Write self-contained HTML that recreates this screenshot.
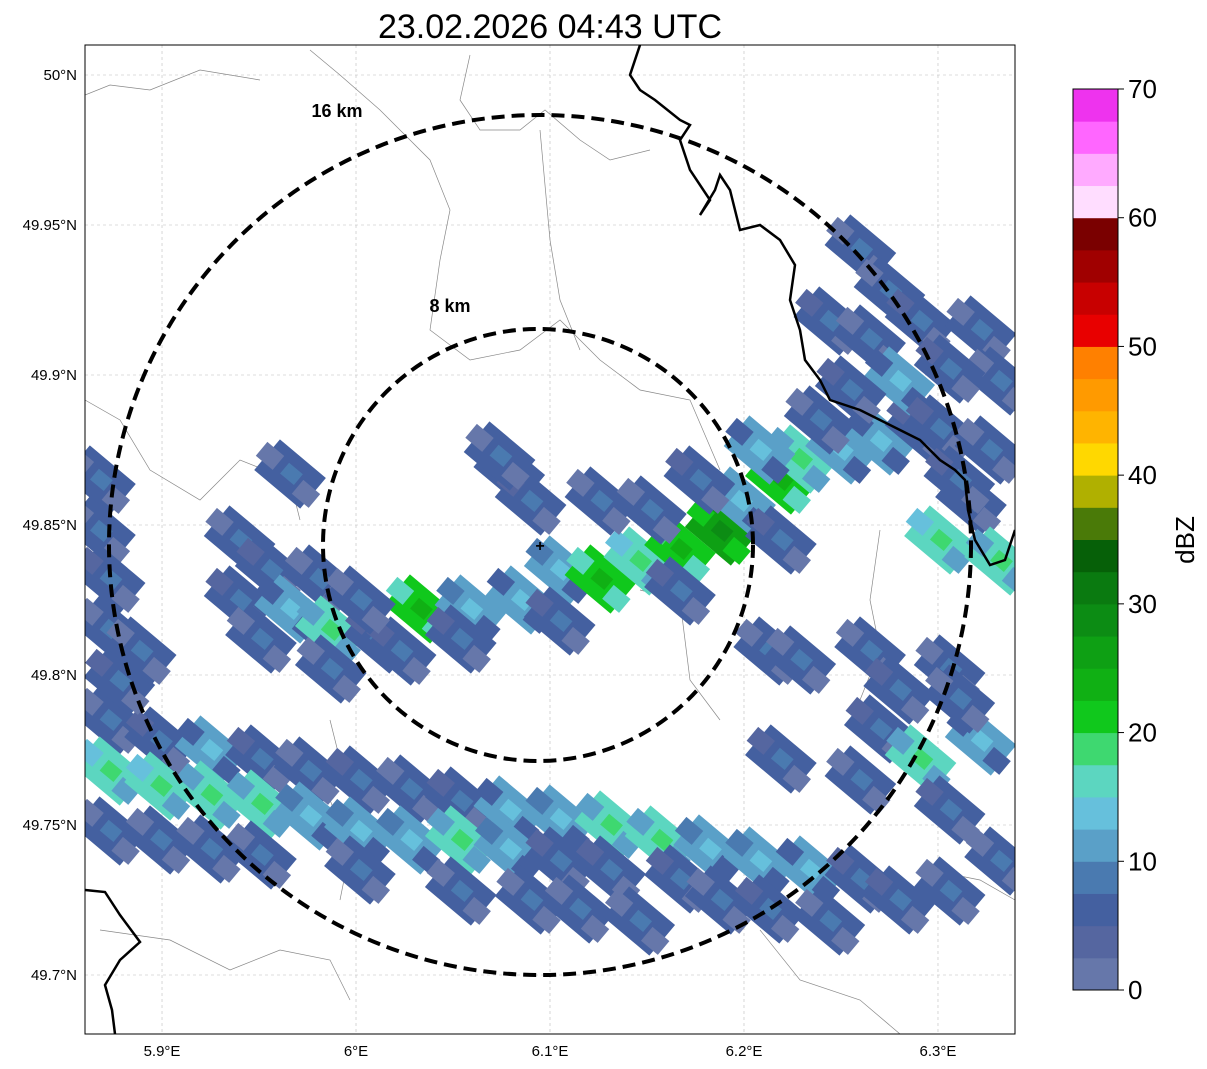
<!DOCTYPE html>
<html><head><meta charset="utf-8">
<style>
body{margin:0;background:#fff;width:1207px;height:1069px;overflow:hidden;font-family:"Liberation Sans",sans-serif;}
svg{display:block}
</style></head>
<body>
<svg id="chart" width="1207" height="1069" xmlns="http://www.w3.org/2000/svg">
<text x="550" y="38" font-size="34" text-anchor="middle" font-family="Liberation Sans, sans-serif">23.02.2026 04:43 UTC</text>
<defs><clipPath id="clip"><rect x="85" y="45" width="930" height="989"/></clipPath></defs>
<g id="grid"></g>
<g id="geo" clip-path="url(#clip)">
<path d="M85,400 L120,420 L150,470 L200,500 L240,460 L290,480 L300,520 M85,95 L110,85 L150,90 L200,70 L260,80 M310,50 L340,75 L380,110 L430,160 L450,210 L440,260 L430,330 L470,360 L520,350 L560,320 L600,360 L640,390 L690,400 L720,470 M470,55 L460,100 L480,130 L520,130 L545,110 L580,140 L610,160 L650,150 M540,130 L550,240 L560,300 L580,350 M330,720 L340,760 L330,800 L350,850 L340,900 M100,930 L170,940 L230,970 L280,950 L330,960 L350,1000 M880,530 L870,600 L880,650 L860,700 M930,870 L980,880 L1015,900 M760,930 L800,980 L860,1000 L900,1034 M640,590 L680,600 L690,680 L720,720" fill="none" stroke="#888" stroke-width="0.7"/>
</g>
<g id="cells" clip-path="url(#clip)"></g>
<g clip-path="url(#clip)">
<path d="M640,45 L630,75 L640,90 L655,100 L680,120 L690,125 L680,140 L690,170 L710,200 L700,215 L715,190 L720,175 L730,190 L740,230 L760,225 L780,240 L795,265 L790,300 L800,330 L805,360 L820,380 L830,400 L860,410 L880,420 L900,430 L920,440 L940,460 L955,470 L965,480 L968,510 L975,540 L990,565 L1005,560 L1015,530" fill="none" stroke="#000" stroke-width="2.5"/>
<path d="M85,890 L105,892 L120,915 L140,942 L120,960 L105,985 L112,1010 L115,1034" fill="none" stroke="#000" stroke-width="2.5"/>
</g>
<g>
<ellipse cx="540" cy="545" rx="431" ry="430" fill="none" stroke="#000" stroke-width="4" stroke-dasharray="13,7"/>
<ellipse cx="538" cy="545" rx="215" ry="216" fill="none" stroke="#000" stroke-width="4" stroke-dasharray="13,7"/>
<text x="337" y="117" font-size="18" font-weight="bold" text-anchor="middle">16 km</text>
<text x="450" y="312" font-size="18" font-weight="bold" text-anchor="middle">8 km</text>
<text x="540" y="551" font-size="16" font-weight="bold" text-anchor="middle">+</text>
</g>
<rect x="85" y="45" width="930" height="989" fill="none" stroke="#000" stroke-width="1"/>
<g id="axes"></g>
<g id="cbar"></g>
<text x="1194" y="540" font-size="26" text-anchor="middle" transform="rotate(-90 1194 540)">dBZ</text>
</svg>
<script>
const lonTicks=[5.9,6.0,6.1,6.2,6.3];
const lonTickLabels=["5.9°E","6°E","6.1°E","6.2°E","6.3°E"];
const latTicks=[50.0,49.95,49.9,49.85,49.8,49.75,49.7];
const latTickLabels=["50°N","49.95°N","49.9°N","49.85°N","49.8°N","49.75°N","49.7°N"];
const cbarTicks=[0,10,20,30,40,50,60,70];
const cbarColors=["#6677aa","#5566a0","#4460a0","#4a7ab0","#5aa0c8","#66c0dc","#5cd6c0","#3ed870","#10c81c","#10b014","#0ea014","#0c8c14","#0a7a10","#066008","#4a7a08","#b0b000","#ffd800","#ffb400","#ff9a00","#ff8000","#e80000","#c80000","#a00000","#7a0000","#ffddff","#ffaaff","#ff66ff","#ee33ee"];
const cellLon=[5.873,5.873,5.873,5.899,5.899,5.899,5.925,5.925,5.925,5.951,5.951,5.951,5.976,5.976,6.002,6.002,6.002,6.028,6.028,6.054,6.054,6.054,6.079,6.079,6.090,6.105,6.105,6.115,6.131,6.131,6.146,6.157,6.167,6.182,6.188,6.208,6.213,6.234,6.244,6.260,6.280,6.306,6.332,
5.868,5.868,5.873,5.873,5.878,5.889,
5.940,5.956,5.940,5.966,5.951,5.981,5.987,6.012,6.033,6.023,6.059,6.085,6.105,6.126,6.146,6.167,6.188,6.198,6.219,6.229,6.250,6.270,6.291,6.167,6.219,6.126,6.177,6.152,6.208,6.105,6.301,5.987,6.002,6.054,
6.079,6.090,6.074,5.966,
6.260,6.275,6.244,6.265,6.291,6.322,6.332,6.306,6.280,6.255,6.239,6.301,6.327,6.317,6.332,6.311,
6.213,6.229,6.265,6.280,6.306,6.270,6.291,6.322,6.260,6.306,6.219,6.311];
const cellLat=[49.785,49.768,49.748,49.778,49.763,49.745,49.775,49.760,49.742,49.772,49.757,49.740,49.768,49.753,49.765,49.748,49.735,49.762,49.745,49.758,49.745,49.728,49.755,49.742,49.725,49.752,49.738,49.722,49.750,49.735,49.718,49.745,49.732,49.742,49.725,49.738,49.722,49.735,49.718,49.732,49.725,49.728,49.738,
49.865,49.848,49.832,49.815,49.798,49.808,
49.845,49.835,49.825,49.822,49.812,49.832,49.815,49.812,49.822,49.808,49.822,49.825,49.835,49.832,49.838,49.842,49.848,49.858,49.865,49.872,49.875,49.878,49.882,49.828,49.845,49.858,49.865,49.855,49.875,49.818,49.845,49.802,49.825,49.812,
49.868,49.858,49.873,49.867,
49.942,49.928,49.918,49.912,49.918,49.915,49.898,49.902,49.898,49.895,49.885,49.882,49.875,49.858,49.838,49.865,
49.808,49.805,49.808,49.795,49.802,49.782,49.772,49.778,49.765,49.755,49.772,49.792];
const cellDbz=[5,17,5,7,17,5,10,15,5,7,15,5,5,12,7,12,5,5,12,7,15,5,10,12,5,12,7,5,15,7,5,15,7,12,5,12,7,10,5,7,7,5,5,
5,5,7,5,7,5,
5,7,7,10,5,5,15,7,20,7,12,10,12,20,17,22,25,12,20,15,12,10,7,7,7,5,7,5,10,7,17,5,5,7,
5,7,5,5,
5,5,7,5,7,5,5,7,10,7,5,7,5,5,15,7,
5,5,5,7,5,7,15,10,5,7,7,5];

const NS="http://www.w3.org/2000/svg";
const X0=85,X1=1015,Y0=45,Y1=1034;
const lonMin=5.8603,lonMax=6.3397;
function xs(lon){return X0+(lon-lonMin)/(lonMax-lonMin)*(X1-X0);}
function ys(lat){return 75+(50-lat)*3000;}
function mk(tag,attrs,parent){const e=document.createElementNS(NS,tag);for(const k in attrs)e.setAttribute(k,attrs[k]);parent.appendChild(e);return e;}
function colorFor(v){let i=Math.floor(v/2.5);if(i<0)i=0;if(i>=cbarColors.length)i=cbarColors.length-1;return cbarColors[i];}

const grid=document.getElementById('grid');
const axes=document.getElementById('axes');
lonTicks.forEach((t,i)=>{
  const x=xs(t);
  const l=mk('line',{x1:x,x2:x,y1:Y0,y2:Y1,stroke:'#bbb','stroke-width':0.6,'stroke-dasharray':'3,3'},grid);
  
  
  const tx=mk('text',{x:x,y:1056,'font-size':15,'text-anchor':'middle'},axes);
  
  
  tx.textContent=lonTickLabels[i];
});
latTicks.forEach((t,i)=>{
  const y=ys(t);
  const l=mk('line',{x1:X0,x2:X1,y1:y,y2:y,stroke:'#bbb','stroke-width':0.6,'stroke-dasharray':'3,3'},grid);
  
  
  const tx=mk('text',{x:77,y:y+5,'font-size':15,'text-anchor':'end'},axes);
  
  
  tx.textContent=latTickLabels[i];
});

const cells=document.getElementById('cells');
for(let i=0;i<cellLon.length;i++){
  const x=xs(cellLon[i]),y=ys(cellLat[i]);
  const g=mk('g',{transform:`translate(${x},${y}) rotate(40)`},cells);
  
  
  const c=colorFor(cellDbz[i]);
  mk('rect',{x:-30,y:-20,width:60,height:40,fill:c},g);
  mk('rect',{x:-38,y:-10,width:22,height:18,fill:colorFor(Math.max(0,cellDbz[i]-3))},g);
  mk('rect',{x:14,y:-4,width:22,height:18,fill:colorFor(Math.max(0,cellDbz[i]-5))},g);
  mk('rect',{x:-8,y:-8,width:18,height:14,fill:colorFor(cellDbz[i]+2.5)},g);
}

const cb=document.getElementById('cbar');
const CB0=990,CB1=89,cbx=1073,cbw=45;
function cbY(v){return CB0-(v/70)*(CB0-CB1);}
cbarColors.forEach((c,i)=>{
  const y1=cbY((i+1)*2.5),y0=cbY(i*2.5);
  const r=mk('rect',{x:cbx,y:y1,width:cbw,height:y0-y1+0.5,fill:c},cb);
  
  
});
const fr=mk('rect',{x:cbx,y:CB1,width:cbw,height:CB0-CB1,fill:'none',stroke:'#000','stroke-width':1},cb);


cbarTicks.forEach(t=>{
  const y=cbY(t);
  mk('line',{x1:cbx+cbw,x2:cbx+cbw+6,y1:y,y2:y,stroke:'#000'},cb);
  const tx=mk('text',{x:1128,y:y+9,'font-size':26},cb);
  
  
  tx.textContent=t;
});
</script>
</body></html>
